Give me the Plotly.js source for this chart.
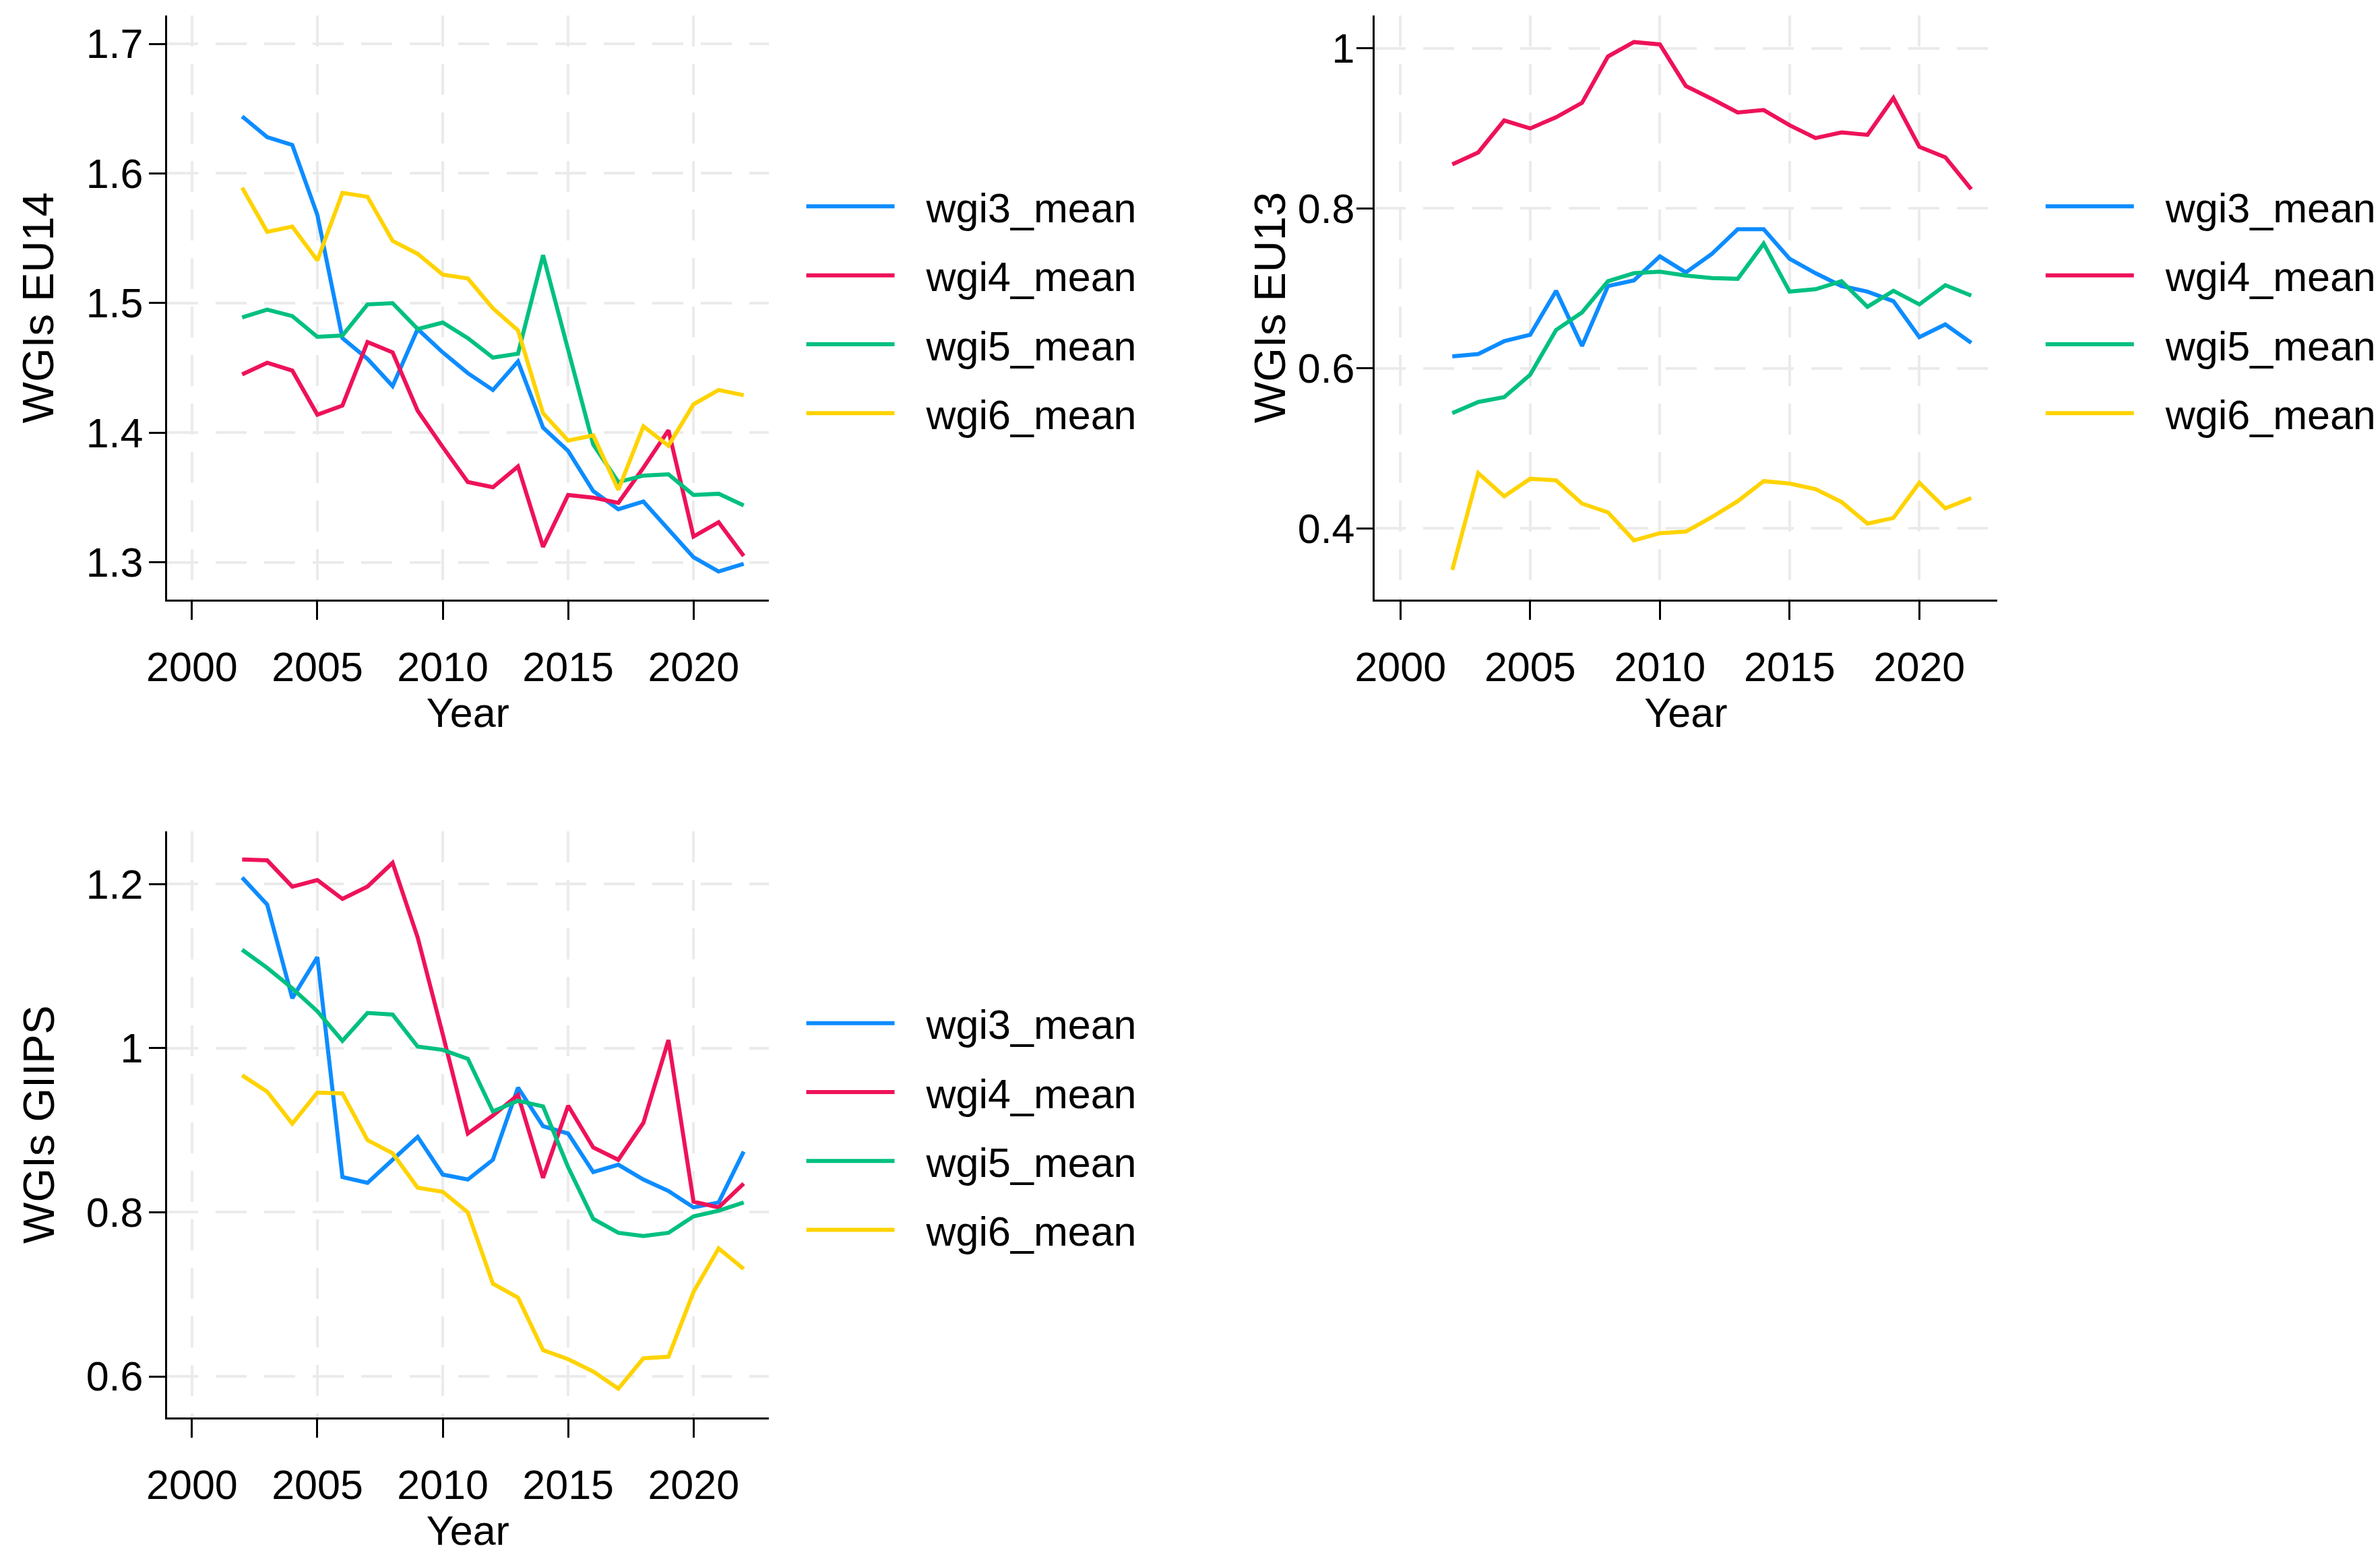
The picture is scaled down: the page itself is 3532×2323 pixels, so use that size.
<!DOCTYPE html>
<html>
<head>
<meta charset="utf-8">
<script src="https://cdn.plot.ly/plotly-3.0.1.min.js"></script>
<style>html,body{margin:0;padding:0;background:#fff;}</style>
</head>
<body>
<div id="chart" style="width:3532px;height:2323px;"></div>
<script>
// ---------- data ----------
const years = [2002,2003,2004,2005,2006,2007,2008,2009,2010,2011,2012,2013,2014,2015,2016,2017,2018,2019,2020,2021,2022];
const seriesNames = ["wgi3_mean","wgi4_mean","wgi5_mean","wgi6_mean"];
const xTickVals = [2000,2005,2010,2015,2020];

// EU14
const eu14_wgi3 = [1.644,1.628,1.622,1.568,1.473,1.457,1.436,1.480,1.462,1.446,1.433,1.455,1.404,1.386,1.355,1.341,1.347,1.325,1.304,1.293,1.299];
const eu14_wgi4 = [1.445,1.454,1.448,1.414,1.421,1.470,1.462,1.417,1.389,1.362,1.358,1.374,1.312,1.352,1.350,1.346,1.373,1.402,1.320,1.331,1.305];
const eu14_wgi5 = [1.489,1.495,1.490,1.474,1.475,1.499,1.500,1.480,1.485,1.473,1.458,1.461,1.537,1.465,1.391,1.362,1.367,1.368,1.352,1.353,1.344];
const eu14_wgi6 = [1.589,1.555,1.559,1.533,1.585,1.582,1.548,1.538,1.522,1.519,1.496,1.479,1.415,1.394,1.398,1.356,1.405,1.390,1.422,1.433,1.429];

// EU13
const eu13_wgi3 = [0.615,0.618,0.634,0.642,0.697,0.628,0.703,0.710,0.740,0.720,0.743,0.774,0.774,0.737,0.719,0.703,0.696,0.684,0.639,0.655,0.632];
const eu13_wgi4 = [0.855,0.870,0.910,0.900,0.914,0.932,0.990,1.008,1.005,0.953,0.937,0.920,0.923,0.904,0.888,0.895,0.892,0.938,0.877,0.864,0.824];
const eu13_wgi5 = [0.544,0.558,0.564,0.592,0.648,0.670,0.709,0.719,0.721,0.716,0.713,0.712,0.756,0.696,0.699,0.709,0.677,0.697,0.680,0.704,0.691];
const eu13_wgi6 = [0.348,0.469,0.440,0.462,0.460,0.431,0.420,0.385,0.394,0.396,0.414,0.434,0.459,0.456,0.449,0.433,0.406,0.413,0.457,0.425,0.438];

// GIIPS
const giips_wgi3 = [1.208,1.175,1.061,1.111,0.843,0.836,0.864,0.892,0.846,0.840,0.864,0.952,0.905,0.896,0.849,0.858,0.840,0.826,0.806,0.812,0.874];
const giips_wgi4 = [1.230,1.229,1.197,1.205,1.182,1.197,1.226,1.135,1.017,0.896,0.918,0.943,0.842,0.930,0.879,0.864,0.909,1.010,0.813,0.806,0.835];
const giips_wgi5 = [1.120,1.098,1.073,1.045,1.009,1.043,1.041,1.002,0.998,0.987,0.923,0.936,0.929,0.855,0.792,0.775,0.771,0.775,0.795,0.802,0.812];
const giips_wgi6 = [0.967,0.947,0.908,0.946,0.945,0.888,0.872,0.830,0.825,0.800,0.713,0.696,0.632,0.621,0.606,0.585,0.622,0.624,0.703,0.756,0.731];

const panelTitles = ["WGIs EU14","WGIs EU13","WGIs GIIPS"];
const xTitle = "Year";
const yTicks1 = [1.3,1.4,1.5,1.6,1.7];
const yTicks2 = [0.4,0.6,0.8,1];
const yTicks3 = [0.6,0.8,1,1.2];

// ---------- styling ----------
const colors = ["#0d8cff","#ee1259","#00c07f","#ffd300"];
const font = "Liberation Sans, Arial, sans-serif";
const FS = 61;

const panels = [
  {data:[eu14_wgi3,eu14_wgi4,eu14_wgi5,eu14_wgi6], xa:"x",  ya:"y",  lg:"legend"},
  {data:[eu13_wgi3,eu13_wgi4,eu13_wgi5,eu13_wgi6], xa:"x2", ya:"y2", lg:"legend2"},
  {data:[giips_wgi3,giips_wgi4,giips_wgi5,giips_wgi6], xa:"x3", ya:"y3", lg:"legend3"}
];

const traces = [];
panels.forEach((p, pi) => {
  p.data.forEach((vals, si) => {
    traces.push({
      type: "scatter", mode: "lines",
      x: years, y: vals,
      name: seriesNames[si],
      xaxis: p.xa, yaxis: p.ya,
      legend: p.lg,
      legendgroup: "p" + pi + "s" + si,
      line: {color: colors[si], width: 6},
      hoverinfo: "x+y+name"
    });
  });
});

function xAxis(domain, anchor) {
  return {
    domain: domain, anchor: anchor, range: [1999, 2023],
    tickmode: "array", tickvals: xTickVals,
    showline: true, linecolor: "#000", linewidth: 3,
    ticks: "outside", ticklen: 27, tickwidth: 3, tickcolor: "#000",
    showgrid: true, gridcolor: "#ebebeb", gridwidth: 4, griddash: "46px,26px",
    zeroline: false, mirror: false,
    tickfont: {family: font, size: FS, color: "#000"},
    ticklabelstandoff: 18,
    title: {text: xTitle, font: {family: font, size: FS, color: "#000"}, standoff: 0}
  };
}
function yAxis(domain, anchor, range, ticks, standoff) {
  return {
    domain: domain, anchor: anchor, range: range,
    tickmode: "array", tickvals: ticks,
    showline: true, linecolor: "#000", linewidth: 3,
    ticks: "outside", ticklen: 24, tickwidth: 3, tickcolor: "#000",
    showgrid: true, gridcolor: "#ebebeb", gridwidth: 4, griddash: "46px,26px",
    zeroline: false, mirror: false,
    tickfont: {family: font, size: FS, color: "#000"},
    ticklabelstandoff: standoff
  };
}

const legendBase = {
  xanchor: "left", yanchor: "top",
  bgcolor: "rgba(0,0,0,0)", borderwidth: 0,
  font: {family: font, size: FS, color: "#000"},
  itemwidth: 173, traceorder: "grouped", tracegroupgap: 20,
  itemclick: false, itemdoubleclick: false
};

const yDom1 = [0.6169, 0.9900], yDom3 = [0.0943, 0.4686];
const titleAnn = (x, dom, text) => ({
  xref: "paper", yref: "paper", x: x, y: (dom[0] + dom[1]) / 2,
  xanchor: "center", yanchor: "middle", textangle: -90, showarrow: false,
  text: text, font: {family: font, size: 65, color: "#000"}
});

const layout = {
  width: 3532, height: 2323,
  margin: {l: 0, r: 0, t: 0, b: 0},
  paper_bgcolor: "#fff", plot_bgcolor: "#fff",
  showlegend: true,
  xaxis:  xAxis([0.0704, 0.3243], "y"),
  yaxis:  yAxis(yDom1, "x",  [1.2714, 1.7217], yTicks1, -4),
  xaxis2: xAxis([0.5798, 0.8425], "y2"),
  yaxis2: yAxis(yDom1, "x2", [0.311, 1.041],  yTicks2, -10),
  xaxis3: xAxis([0.0704, 0.3243], "y3"),
  yaxis3: yAxis(yDom3, "x3", [0.550, 1.264],  yTicks3, -4),
  legend:  Object.assign({}, legendBase, {x: 0.3387, y: 0.8880}),
  legend2: Object.assign({}, legendBase, {x: 0.8615, y: 0.8880}),
  legend3: Object.assign({}, legendBase, {x: 0.3387, y: 0.3661}),
  annotations: [
    titleAnn(57 / 3532, yDom1, panelTitles[0]),
    titleAnn(1892 / 3532, yDom1, panelTitles[1]),
    titleAnn(57 / 3532, yDom3, panelTitles[2])
  ]
};

Plotly.newPlot("chart", traces, layout, {staticPlot: true, displayModeBar: false}).then(gd => {
  // lengthen legend line symbols to match the reference
  gd.querySelectorAll(".legendlines path").forEach(p => p.setAttribute("d", "M5,0h131"));
});
</script>
</body>
</html>
